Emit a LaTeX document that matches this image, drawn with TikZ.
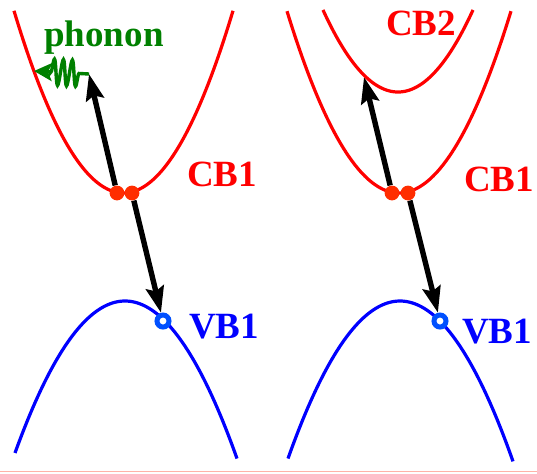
\documentclass[tikz,border=0pt]{standalone}
\usepackage{fontspec}
\setmainfont{Liberation Serif}
\usepackage{xcolor}
\usepackage{tikz}
\usetikzlibrary{
  arrows.meta,
  decorations.pathmorphing,
  backgrounds
}
\definecolor{dotred}{RGB}{255,45,0}
\definecolor{holeblue}{RGB}{0,80,255}
\definecolor{phgreen}{RGB}{0,128,0}
\definecolor{edgepink}{RGB}{255,178,168}
\tikzset{
  band/.style     = {line width=1.6pt, samples=90},
  cband/.style    = {band, red},
  vband/.style    = {band, blue},
  transition/.style = {-{Stealth[length=13pt, width=9pt, inset=2pt]}, line width=2.7pt, black},
  electron/.style = {circle, fill=dotred, minimum size=7.4pt, inner sep=0pt},
  hole/.style     = {circle, draw=holeblue, fill=white, line width=2.5pt,
                     minimum size=6pt, inner sep=0pt},
  bandlabel/.style = {anchor=base, font=\fontsize{18.5}{20}\selectfont\bfseries},
  phonon/.style   = {-{Stealth[length=9pt, width=9pt, inset=2pt]}, line width=1.7pt, phgreen,
                     decorate, decoration={snake, amplitude=6.5pt, segment length=4.5pt,
                     pre length=5pt, post length=8pt}},
}

\begin{document}
\begin{tikzpicture}[x=0.5pt, y=-0.5pt]
    \useasboundingbox (0,0) rectangle (537,473);

    % --- LEFT: INDIRECT GAP ---
    \draw[cband, domain=14:233] plot (\x, {193-0.0152*(\x-123.5)^2});
    \draw[vband, domain=15:237] plot (\x, {301+0.01256*(\x-125)^2});

    \node[electron] (eL1) at (117,193) {};
    \node[electron] (eL2) at (132,193) {};
    \node[hole] (hL) at (163,321) {};
    \coordinate (upL) at (89,74);
    \coordinate (phL) at (34,71);

    \begin{scope}[on background layer]
        \draw[transition] (eL1) -- (upL);
        \draw[transition] (eL2) -- (hL);
    \end{scope}
    \draw[phonon] (upL) -- (phL);

    \node[bandlabel, phgreen] (phtxt) at (104,46) {phonon};
    \node[bandlabel, red] (cbL) at (222,186) {CB1};
    \node[bandlabel, blue] (vbL) at (224,338) {VB1};

    % --- RIGHT: SECOND CONDUCTION BAND ---
    \draw[cband, domain=287:511] plot (\x, {193-0.0145*(\x-399)^2});
    \draw[cband, domain=323:473] plot (\x, {92-0.01458*(\x-398)^2});
    \draw[vband, domain=288:513] plot (\x, {301+0.01256*(\x-400)^2});

    \node[electron] (eR1) at (392,193) {};
    \node[electron] (eR2) at (408,193) {};
    \node[hole] (hR) at (440,321) {};
    \coordinate (upR) at (364,77);

    \begin{scope}[on background layer]
        \draw[transition] (eR1) -- (upR);
        \draw[transition] (eR2) -- (hR);
    \end{scope}

    \node[bandlabel, red] (cb2R) at (421,35) {CB2};
    \node[bandlabel, red] (cbR) at (499,191) {CB1};
    \node[bandlabel, blue] (vbR) at (497,343) {VB1};

    % bottom edge
    \draw[edgepink, line width=0.6pt] (0,471.5) -- (537,471.5);

\end{tikzpicture}
\end{document}
